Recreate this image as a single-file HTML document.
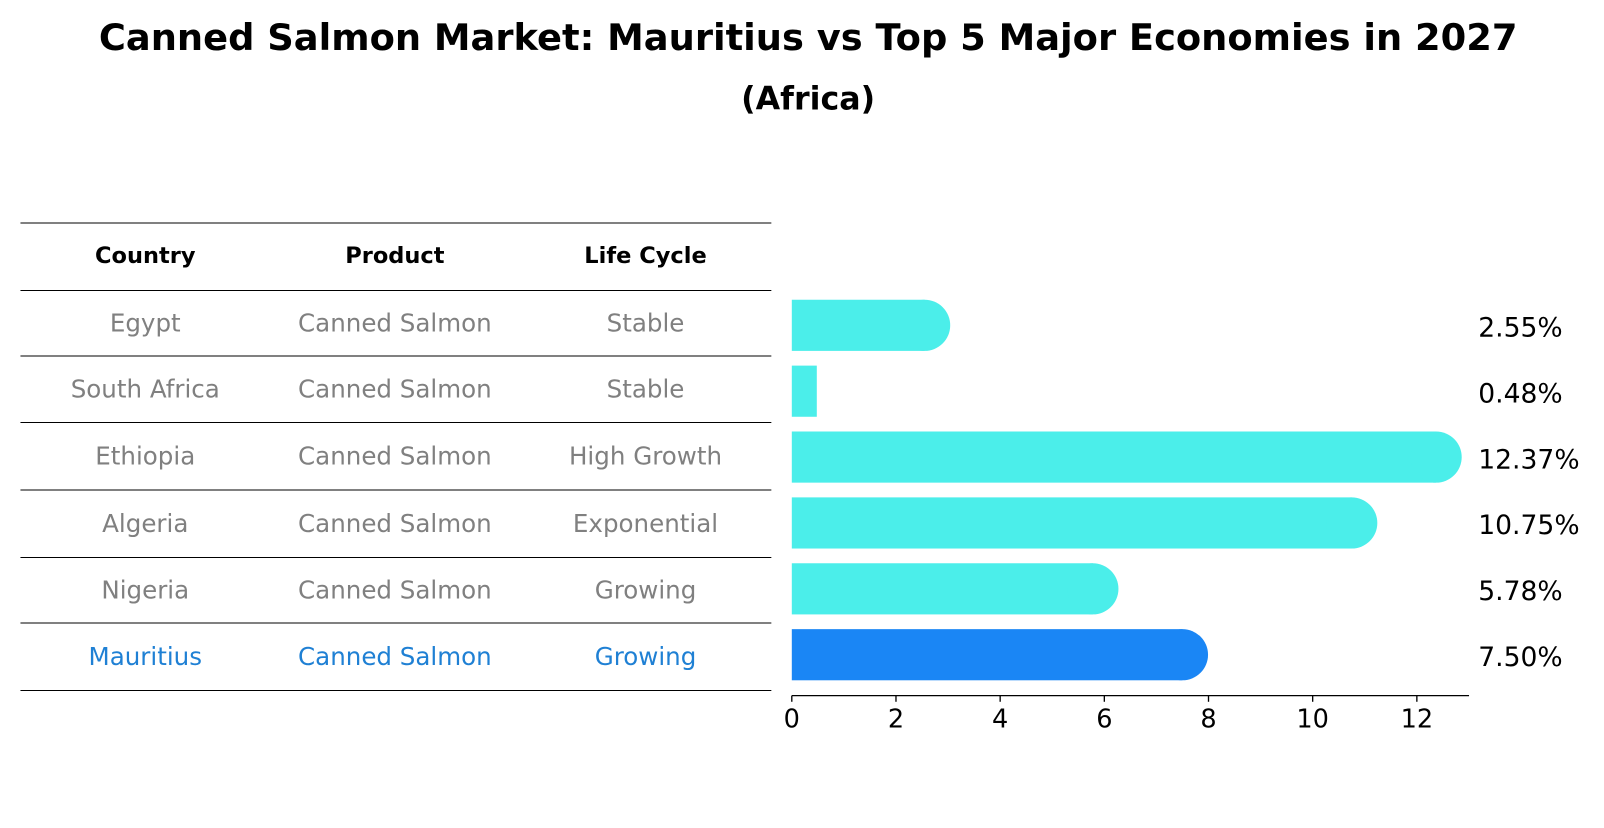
<!DOCTYPE html>
<html><head><meta charset="utf-8"><style>
body{margin:0;background:#fff;font-family:"Liberation Sans","DejaVu Sans",sans-serif;}
svg text{font-family:"DejaVu Sans","Liberation Sans",sans-serif;}
</style></head><body>
<svg width="1604" height="823" xmlns="http://www.w3.org/2000/svg">
<g transform="scale(1.023)">
<text x="790" y="49" text-anchor="middle" font-size="36" font-weight="bold">Canned Salmon Market: Mauritius vs Top 5 Major Economies in 2027</text>
<text x="790" y="107" text-anchor="middle" font-size="31" font-weight="bold">(Africa)</text>
<g id="table"></g>
<g id="bars"></g>
<g id="axis"></g>
</g>
</svg>
<script>
const countries=["Egypt","South Africa","Ethiopia","Algeria","Nigeria","Mauritius"];
const products=["Canned Salmon","Canned Salmon","Canned Salmon","Canned Salmon","Canned Salmon","Canned Salmon"];
const lifeCycles=["Stable","Stable","High Growth","Exponential","Growing","Growing"];
const values=[2.55,0.48,12.37,10.75,5.78,7.50];
const valueLabels=["2.55%","0.48%","12.37%","10.75%","5.78%","7.50%"];
const xTicks=[0,2,4,6,8,10,12];
const NS="http://www.w3.org/2000/svg";
const x0=774, pxPer=(1385-774)/12, axisEnd=1436, axisY=680;
const xs=v=>x0+v*pxPer;
const rowY=i=>318+i*64.4;
function mk(tag,attrs,parent,txt){const e=document.createElementNS(NS,tag);for(const k in attrs)e.setAttribute(k,attrs[k]);if(txt!==undefined)e.textContent=txt;parent.appendChild(e);return e;}
const tbl=document.getElementById('table');
const lines=[218,284,348,413,479,545,609,675];
lines.forEach(y=>{const l=mk('line',{x1:20,x2:754,y1:y,y2:y,stroke:'#000','stroke-width':1},tbl);

});
const colX=[142,386,631];
["Country","Product","Life Cycle"].forEach((h,j)=>{const t=mk('text',{x:colX[j],y:257,'text-anchor':'middle','font-size':22,'font-weight':'bold'},tbl,h);

});
countries.forEach((c,i)=>{
 const col=i===countries.length-1?'#1f80d4':'#808080';
 const y=lines[i+1]+(lines[i+2]-lines[i+1])/2+8;
 [c,products[i],lifeCycles[i]].forEach((v,j)=>{const t=mk('text',{x:colX[j],y:y,'text-anchor':'middle','font-size':24,fill:col},tbl,v);
 
 });
});
const bars=document.getElementById('bars');
values.forEach((v,i)=>{
 const col=i===values.length-1?'#1a86f5':'#4beeea';
 const cy=rowY(i), h=50, r=25;
 const g=mk('g',{},bars);
 
 
 mk('rect',{x:x0,y:cy-h/2,width:Math.max(0,xs(v)-x0),height:h,fill:col},g);
 if(v>1) mk('circle',{cx:xs(v),cy:cy,r:r,fill:col},g);
 const t=mk('text',{x:1445,y:cy+11,'font-size':26},bars,valueLabels[i]);
 
 
});
const ax=document.getElementById('axis');
mk('line',{x1:x0,x2:axisEnd,y1:axisY,y2:axisY,stroke:'#000','stroke-width':1.3},ax);
xTicks.forEach(t=>{mk('line',{x1:xs(t),x2:xs(t),y1:axisY,y2:axisY+6,stroke:'#000','stroke-width':1.3},ax);
 const tx=mk('text',{x:xs(t),y:axisY+31,'text-anchor':'middle','font-size':25},ax,String(t));
 
 });
</script>
</body></html>
